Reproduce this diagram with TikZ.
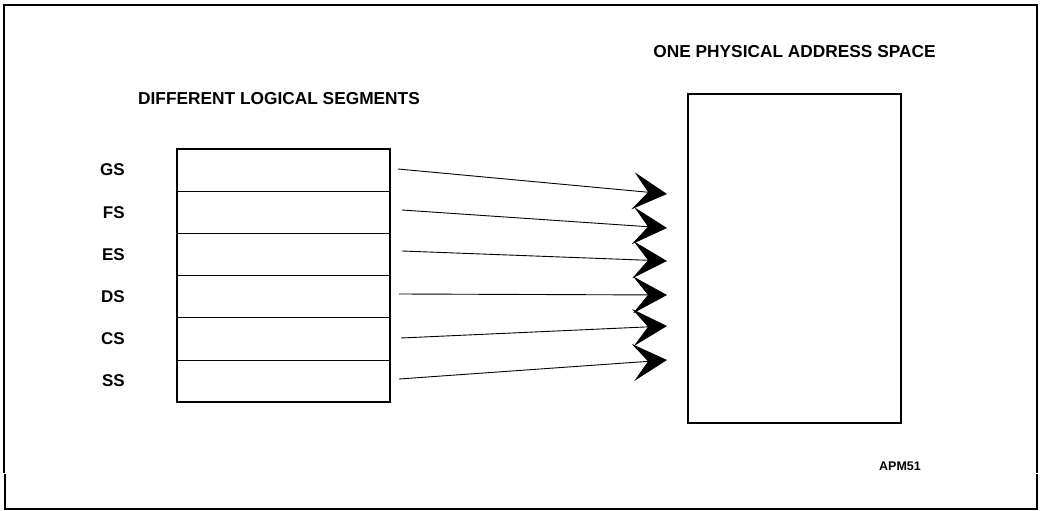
\documentclass[tikz,border=0pt]{standalone}
\usepackage{fontspec}
\setmainfont{Liberation Sans}
\usetikzlibrary{positioning,arrows.meta}

\begin{document}
\begin{tikzpicture}[
      x=1pt, y=-1pt,
      seg/.style={draw, line width=0.9pt, minimum width=213pt,
        minimum height=42.2pt, inner sep=0pt, outer sep=0pt},
      lbl/.style={font=\fontsize{17}{19}\selectfont\bfseries, inner sep=0pt},
      hdr/.style={font=\fontsize{17.3}{20}\selectfont\bfseries, inner sep=0pt},
      link/.style={line width=0.9pt, -{Stealth[length=34pt, width=37pt, inset=15pt]}},
      semithick
      ]

  \useasboundingbox (0,0) rectangle (1042,511);

  % outer frame
  \draw[line width=2.2pt] (4,472.5) -- (4,5) -- (1037,5) -- (1037,472.5);
  \draw[line width=2.2pt] (5,474) -- (5,509) -- (1037,509) -- (1037,474);

  % logical segments
  \node[seg] at (283.5,170.1) (gs) {};
  \node[seg, below = 0pt of gs] (fs) {};
  \node[seg, below = 0pt of fs] (es) {};
  \node[seg, below = 0pt of es] (ds) {};
  \node[seg, below = 0pt of ds] (cs) {};
  \node[seg, below = 0pt of cs] (ss) {};
  \draw[line width=2pt] (gs.north west) rectangle (ss.south east);

  \node[lbl, left = 52pt of gs] (gslbl) {GS};
  \node[lbl, left = 52pt of fs] (fslbl) {FS};
  \node[lbl, left = 52pt of es] (eslbl) {ES};
  \node[lbl, left = 52pt of ds] (dslbl) {DS};
  \node[lbl, left = 52pt of cs] (cslbl) {CS};
  \node[lbl, left = 52pt of ss] (sslbl) {SS};

  \node[hdr, above = 44pt of gs, xshift=-4.5pt] (logical) {DIFFERENT LOGICAL SEGMENTS};

  % physical space
  \node[draw, line width=2pt, minimum width=213pt, minimum height=329pt,
    inner sep=0pt] at (794.5,258.5) (phys) {};
  \node[hdr, above = 35pt of phys] (physical) {ONE PHYSICAL ADDRESS SPACE};

  \node[font=\fontsize{12.5}{14}\selectfont\bfseries, inner sep=0pt] at (900,466) (apm) {APM51};

  % Connect the segments
  \coordinate (gsout) at (398,169);
  \coordinate (fsout) at (402,210);
  \coordinate (esout) at (402,251);
  \coordinate (dsout) at (399,294);
  \coordinate (csout) at (401,338);
  \coordinate (ssout) at (399,379);
  \coordinate (gsin) at (667,194);
  \coordinate (fsin) at (667,228);
  \coordinate (esin) at (667,261);
  \coordinate (dsin) at (667,295);
  \coordinate (csin) at (667,326);
  \coordinate (ssin) at (667,360);

  \draw[link] (gsout) -- (gsin);
  \draw[link] (fsout) -- (fsin);
  \draw[link] (esout) -- (esin);
  \draw[link] (dsout) -- (dsin);
  \draw[link] (csout) -- (csin);
  \draw[link] (ssout) -- (ssin);

\end{tikzpicture}
\end{document}
